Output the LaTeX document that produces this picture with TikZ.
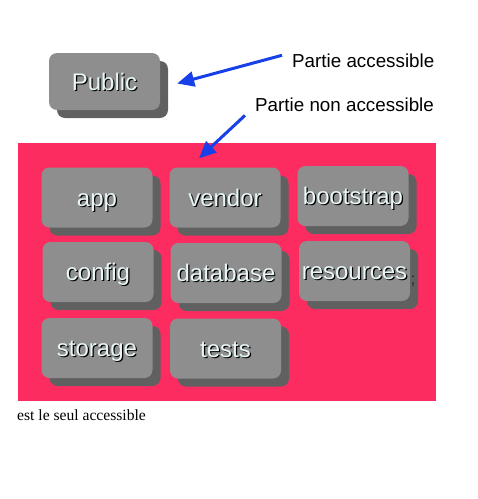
\documentclass[tikz,border=0pt]{standalone}
\usepackage{fontspec}
\setmainfont{Liberation Serif}
\newfontfamily\arial{Liberation Sans}
\usetikzlibrary{shadows,arrows.meta}

\definecolor{rouge}{RGB}{252,44,96}
\definecolor{gris}{RGB}{142,142,142}
\definecolor{grisombre}{RGB}{96,96,96}
\definecolor{bleu}{RGB}{24,64,232}
\definecolor{txtclair}{RGB}{232,246,246}

% texte avec ombre portee
\newcommand{\txtombre}[1]{\rlap{\kern1.2pt\raisebox{-1.2pt}{\textcolor{black}{#1}}}\textcolor{txtclair}{#1}}

\begin{document}
\begin{tikzpicture}[x=1pt, y=-1pt,
        dossier/.style={fill=gris, rounded corners=8pt, minimum width=111pt, minimum height=60pt,
                        inner sep=0pt, text height=18pt, text depth=1pt,
                        font=\arial\fontsize{24}{24}\selectfont,
                        drop shadow={shadow xshift=8pt, shadow yshift=-8pt, fill=grisombre, opacity=1}},
        legende/.style={font=\arial\fontsize{18.8}{20}\selectfont, anchor=base west, inner sep=0pt},
        fleche/.style={draw=bleu, line width=3pt, -{Triangle[length=17pt,width=15pt]}}]

    \useasboundingbox (0,0) rectangle (478,499);

    \node[fill=rouge, minimum width=418pt, minimum height=258pt, inner sep=0pt] (zone) at (227,272) {};

    \node[dossier, minimum height=57pt] (public) at (104.5,81.5) {\txtombre{Public}};

    \node[dossier] (app)       at (97,197.5)  {\txtombre{app}};
    \node[dossier] (vendor)    at (225,197.5) {\txtombre{vendor}};
    \node[dossier] (bootstrap) at (353,196)   {\txtombre{bootstrap}};
    \node[dossier] (config)    at (98,272)    {\txtombre{config}};
    \node[dossier] (database)  at (226,273)   {\txtombre{database}};
    \node[dossier] (resources) at (354.5,271) {\txtombre{resources}};
    \node[dossier] (storage)   at (97,348)    {\txtombre{storage}};
    \node[dossier] (tests)     at (225.5,348.5) {\txtombre{tests}};

    \node[font=\arial\fontsize{16}{16}\selectfont, text=black!85, inner sep=0pt] (pointvirgule) at (413,281) {;};

    \node[legende] (acc)    at (292,67)  {Partie accessible};
    \node[legende] (nonacc) at (255,111) {Partie non accessible};

    \node[font=\fontsize{15.6}{17}\selectfont, anchor=base west, inner sep=0pt] (seul) at (17,420) {est le seul accessible};

    \draw[fleche] ([xshift=-10pt,yshift=5pt]acc.west) -- ([xshift=17pt,yshift=-2pt]public.east);
    \draw[fleche] ([xshift=-10pt,yshift=-4pt]nonacc.south west) -- ([xshift=-26pt,yshift=9pt]vendor.north);
\end{tikzpicture}
\end{document}
